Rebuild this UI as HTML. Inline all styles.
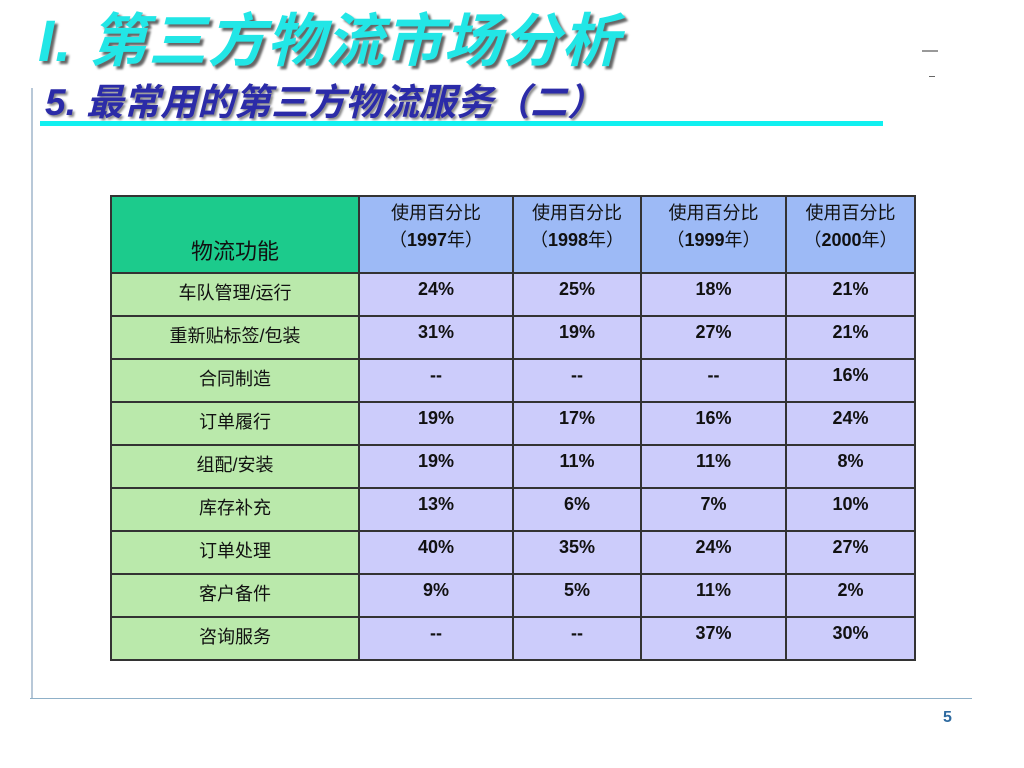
<!DOCTYPE html>
<html><head><meta charset="utf-8">
<style>
html,body{margin:0;padding:0;background:#fff;}
body{width:1024px;height:768px;position:relative;overflow:hidden;font-family:"Liberation Sans","Noto Sans CJK SC",sans-serif;}
.abs{position:absolute;}
#title{left:38px;top:-6px;font-size:58px;font-weight:bold;font-style:italic;color:#22e6e6;text-shadow:3px 3px 2px #666;white-space:nowrap;letter-spacing:1px;}
#sub{left:45px;top:72px;font-size:37px;font-weight:bold;font-style:italic;color:#2b2ba8;text-shadow:2px 2px 2px #888;white-space:nowrap;}
table{position:absolute;left:110px;top:195px;border-collapse:collapse;table-layout:fixed;}
td{border:2px solid #333;text-align:center;color:#111;padding:0;box-sizing:border-box;}
.hd{background:#9dbaf6;font-size:18px;line-height:27px;height:77px;vertical-align:top;padding-top:3px;}
.h0{background:#1ccb8c;font-size:22px;vertical-align:bottom;padding-bottom:6px;}
.lab{background:#bae9ab;font-size:18px;height:43px;vertical-align:top;padding-top:5px;}
.v{background:#ccccfb;font-size:18px;font-weight:bold;vertical-align:top;padding-top:5px;}
</style></head><body>
<div class="abs" id="title">I. 第三方物流市场分析</div>
<div class="abs" id="sub">5. 最常用的第三方物流服务（二）</div>
<div class="abs" style="left:40px;top:121px;width:843px;height:5px;background:#11f0f0;"></div>
<div class="abs" style="left:31px;top:88px;width:2px;height:610px;background:#b8c8d8;"></div>
<div class="abs" style="left:30px;top:698px;width:942px;height:1px;background:#8fb0c8;"></div>
<div class="abs" style="left:922px;top:50px;width:16px;height:2px;background:#999;"></div>
<div class="abs" style="left:929px;top:76px;width:6px;height:1px;background:#666;"></div>
<div class="abs" style="left:943px;top:709px;font-size:16px;font-weight:bold;color:#2e6aa0;">5</div>
<table>
<colgroup><col style="width:248px"><col style="width:154px"><col style="width:128px"><col style="width:145px"><col style="width:129px"></colgroup>
<tr>
<td class="h0">物流功能</td>
<td class="hd">使用百分比<br>（<b>1997</b>年）</td>
<td class="hd">使用百分比<br>（<b>1998</b>年）</td>
<td class="hd">使用百分比<br>（<b>1999</b>年）</td>
<td class="hd">使用百分比<br>（<b>2000</b>年）</td>
</tr>
<tr><td class="lab">车队管理/运行</td><td class="v">24%</td><td class="v">25%</td><td class="v">18%</td><td class="v">21%</td></tr>
<tr><td class="lab">重新贴标签/包装</td><td class="v">31%</td><td class="v">19%</td><td class="v">27%</td><td class="v">21%</td></tr>
<tr><td class="lab">合同制造</td><td class="v">--</td><td class="v">--</td><td class="v">--</td><td class="v">16%</td></tr>
<tr><td class="lab">订单履行</td><td class="v">19%</td><td class="v">17%</td><td class="v">16%</td><td class="v">24%</td></tr>
<tr><td class="lab">组配/安装</td><td class="v">19%</td><td class="v">11%</td><td class="v">11%</td><td class="v">8%</td></tr>
<tr><td class="lab">库存补充</td><td class="v">13%</td><td class="v">6%</td><td class="v">7%</td><td class="v">10%</td></tr>
<tr><td class="lab">订单处理</td><td class="v">40%</td><td class="v">35%</td><td class="v">24%</td><td class="v">27%</td></tr>
<tr><td class="lab">客户备件</td><td class="v">9%</td><td class="v">5%</td><td class="v">11%</td><td class="v">2%</td></tr>
<tr><td class="lab">咨询服务</td><td class="v">--</td><td class="v">--</td><td class="v">37%</td><td class="v">30%</td></tr>
</table>
</body></html>
